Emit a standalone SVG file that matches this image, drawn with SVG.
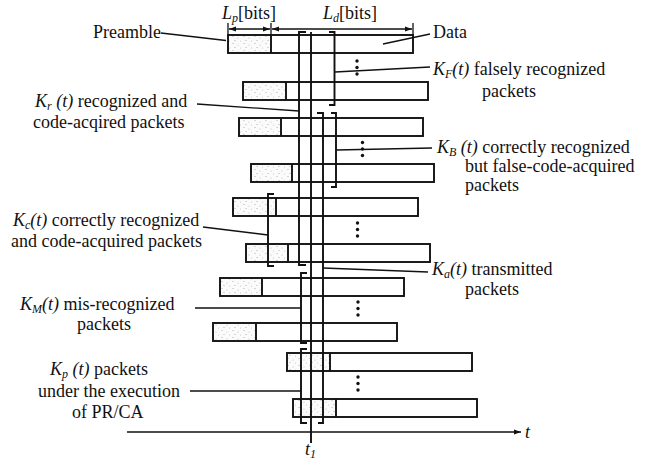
<svg xmlns="http://www.w3.org/2000/svg" width="645" height="464" viewBox="0 0 645 464">
<style>
text{font-family:"Liberation Serif","Times New Roman",serif;font-size:18px;fill:#111}
.i{font-style:italic}
.sub{font-style:italic;font-size:12px}
.pk{fill:#fff;stroke:#111;stroke-width:1.9}
.pre{fill:url(#stip);stroke:none}
.div{stroke:#111;stroke-width:1.9}
.br{fill:none;stroke:#111;stroke-width:1.9}
.ld{fill:none;stroke:#111;stroke-width:1.3}
.dot{fill:#111}
</style>
<defs>
<pattern id="stip" width="11" height="7" patternUnits="userSpaceOnUse">
<rect width="11" height="7" fill="#fbfbfb"/>
<circle cx="2" cy="1.5" r="0.6" fill="#aaa"/>
<circle cx="7" cy="3" r="0.6" fill="#bbb"/>
<circle cx="4" cy="5.5" r="0.6" fill="#aaa"/>
<circle cx="9.5" cy="6" r="0.5" fill="#bbb"/>
</pattern>
<marker id="ah" viewBox="0 0 10 10" refX="10" refY="5" markerWidth="7" markerHeight="7" orient="auto-start-reverse" markerUnits="userSpaceOnUse">
<path d="M0,1.5 L10,5 L0,8.5 Z" fill="#111"/>
</marker>
<marker id="ta" viewBox="0 0 10 10" refX="10" refY="5" markerWidth="9" markerHeight="7" orient="auto" markerUnits="userSpaceOnUse">
<path d="M0,1.5 L10,5 L0,8.5 Z" fill="#111"/>
</marker>
</defs>

<g id="packets">
<g id="p1"><rect class="pk" x="228" y="35" width="185" height="18"/><rect class="pre" x="229" y="36" width="41" height="16"/><line class="div" x1="271" y1="35" x2="271" y2="53"/></g>
<g id="p2"><rect class="pk" x="243" y="82" width="185" height="18"/><rect class="pre" x="244" y="83" width="41" height="16"/><line class="div" x1="286" y1="82" x2="286" y2="100"/></g>
<g id="p3"><rect class="pk" x="239" y="118" width="184" height="18"/><rect class="pre" x="240" y="119" width="40" height="16"/><line class="div" x1="281" y1="118" x2="281" y2="136"/></g>
<g id="p4"><rect class="pk" x="251" y="164" width="183" height="18"/><rect class="pre" x="252" y="165" width="39" height="16"/><line class="div" x1="292" y1="164" x2="292" y2="182"/></g>
<g id="p5"><rect class="pk" x="233" y="198" width="185" height="18"/><rect class="pre" x="234" y="199" width="41" height="16"/><line class="div" x1="276" y1="198" x2="276" y2="216"/></g>
<g id="p6"><rect class="pk" x="246" y="244" width="184" height="18"/><rect class="pre" x="247" y="245" width="40" height="16"/><line class="div" x1="288" y1="244" x2="288" y2="262"/></g>
<g id="p7"><rect class="pk" x="220" y="278" width="184" height="18"/><rect class="pre" x="221" y="279" width="40" height="16"/><line class="div" x1="262" y1="278" x2="262" y2="296"/></g>
<g id="p8"><rect class="pk" x="213" y="323" width="184" height="18"/><rect class="pre" x="214" y="324" width="41" height="16"/><line class="div" x1="256" y1="323" x2="256" y2="341"/></g>
<g id="p9"><rect class="pk" x="287" y="353" width="185" height="18"/><rect class="pre" x="288" y="354" width="41" height="16"/><line class="div" x1="330" y1="353" x2="330" y2="371"/></g>
<g id="p10"><rect class="pk" x="293" y="399" width="184" height="18"/><rect class="pre" x="294" y="400" width="41" height="16"/><line class="div" x1="336" y1="399" x2="336" y2="417"/></g>
</g>

<g id="dots">
<circle class="dot" cx="357" cy="61" r="1.7"/><circle class="dot" cx="357" cy="67.5" r="1.7"/><circle class="dot" cx="357" cy="74" r="1.7"/>
<circle class="dot" cx="362.5" cy="142.5" r="1.7"/><circle class="dot" cx="362.5" cy="149" r="1.7"/><circle class="dot" cx="362.5" cy="155.5" r="1.7"/>
<circle class="dot" cx="357.5" cy="223" r="1.7"/><circle class="dot" cx="357.5" cy="229.5" r="1.7"/><circle class="dot" cx="357.5" cy="236" r="1.7"/>
<circle class="dot" cx="358" cy="302" r="1.7"/><circle class="dot" cx="358" cy="308.5" r="1.7"/><circle class="dot" cx="358" cy="315" r="1.7"/>
<circle class="dot" cx="358" cy="377" r="1.7"/><circle class="dot" cx="358" cy="383.5" r="1.7"/><circle class="dot" cx="358" cy="390" r="1.7"/>
</g>

<g id="connectors">
<line class="ld" x1="228" y1="23" x2="228" y2="35"/>
<line class="ld" x1="271" y1="23" x2="271" y2="35"/>
<line class="ld" x1="413" y1="23" x2="413" y2="35"/>
<line class="ld" x1="229" y1="29" x2="270" y2="29" marker-start="url(#ah)" marker-end="url(#ah)"/>
<line class="ld" x1="272" y1="29" x2="412" y2="29" marker-start="url(#ah)" marker-end="url(#ah)"/>
<path id="br-Kr" class="br" d="M306,32 H299 V265 H306"/>
<line id="t1-line" class="br" x1="311" y1="32" x2="311" y2="443"/>
<path id="br-KF" class="br" d="M329,32 H334.5 V105 H329"/>
<path id="br-KB" class="br" d="M331,113 H336 V187 H331"/>
<path id="br-Ka" class="br" d="M317,113 H323 V423 H318"/>
<path id="br-Kc" class="br" d="M274,194 H268 V266 H274"/>
<path id="br-KM" class="br" d="M307,273 H301 V343 H307"/>
<path id="br-Kp" class="br" d="M307,349 H301 V423 H307"/>
<line class="ld" x1="161" y1="33" x2="226" y2="40.5"/>
<line class="ld" x1="383" y1="44" x2="430" y2="34"/>
<line class="ld" x1="335" y1="72" x2="430" y2="67"/>
<line class="ld" x1="197" y1="104" x2="299" y2="111"/>
<line class="ld" x1="336" y1="150" x2="432" y2="148"/>
<line class="ld" x1="203" y1="227" x2="268" y2="235"/>
<line class="ld" x1="323" y1="268" x2="428" y2="272"/>
<line class="ld" x1="195" y1="308" x2="301" y2="308"/>
<line class="ld" x1="190" y1="391" x2="301" y2="391"/>
<line class="ld" x1="127" y1="432" x2="521" y2="432" marker-end="url(#ta)"/>
</g>

<g id="labels">
<text x="222" y="19"><tspan class="i">L</tspan><tspan class="sub" dy="3">p</tspan><tspan dy="-3">[bits]</tspan></text>
<text x="323" y="19"><tspan class="i">L</tspan><tspan class="sub" dy="3">d</tspan><tspan dy="-3">[bits]</tspan></text>
<text x="93" y="38">Preamble</text>
<text x="433" y="38">Data</text>
<text x="433" y="75"><tspan class="i">K</tspan><tspan class="sub" dy="3">F</tspan><tspan class="i" dy="-3">(t)</tspan> falsely recognized</text>
<text x="482" y="97">packets</text>
<text x="35" y="107"><tspan class="i">K</tspan><tspan class="sub" dy="3">r</tspan><tspan class="i" dy="-3"> (t)</tspan> recognized and</text>
<text x="33" y="128">code-acqired packets</text>
<text x="437" y="153"><tspan class="i">K</tspan><tspan class="sub" dy="3">B</tspan><tspan class="i" dy="-3"> (t)</tspan> correctly recognized</text>
<text x="465" y="172">but false-code-acquired</text>
<text x="465" y="191">packets</text>
<text x="13" y="226"><tspan class="i">K</tspan><tspan class="sub" dy="3">c</tspan><tspan class="i" dy="-3">(t)</tspan> correctly recognized</text>
<text x="11" y="247">and code-acquired packets</text>
<text x="432" y="275"><tspan class="i">K</tspan><tspan class="sub" dy="3">a</tspan><tspan class="i" dy="-3">(t)</tspan> transmitted</text>
<text x="465" y="295">packets</text>
<text x="20" y="310"><tspan class="i">K</tspan><tspan class="sub" dy="3">M</tspan><tspan class="i" dy="-3">(t)</tspan> mis-recognized</text>
<text x="77" y="330">packets</text>
<text x="50" y="375"><tspan class="i">K</tspan><tspan class="sub" dy="3">p</tspan><tspan class="i" dy="-3"> (t)</tspan> packets</text>
<text x="38" y="397">under the execution</text>
<text x="72" y="418">of PR/CA</text>
<text x="525" y="438" class="i">t</text>
<text x="305" y="455"><tspan class="i">t</tspan><tspan class="sub" dy="3">1</tspan></text>
</g>
</svg>
